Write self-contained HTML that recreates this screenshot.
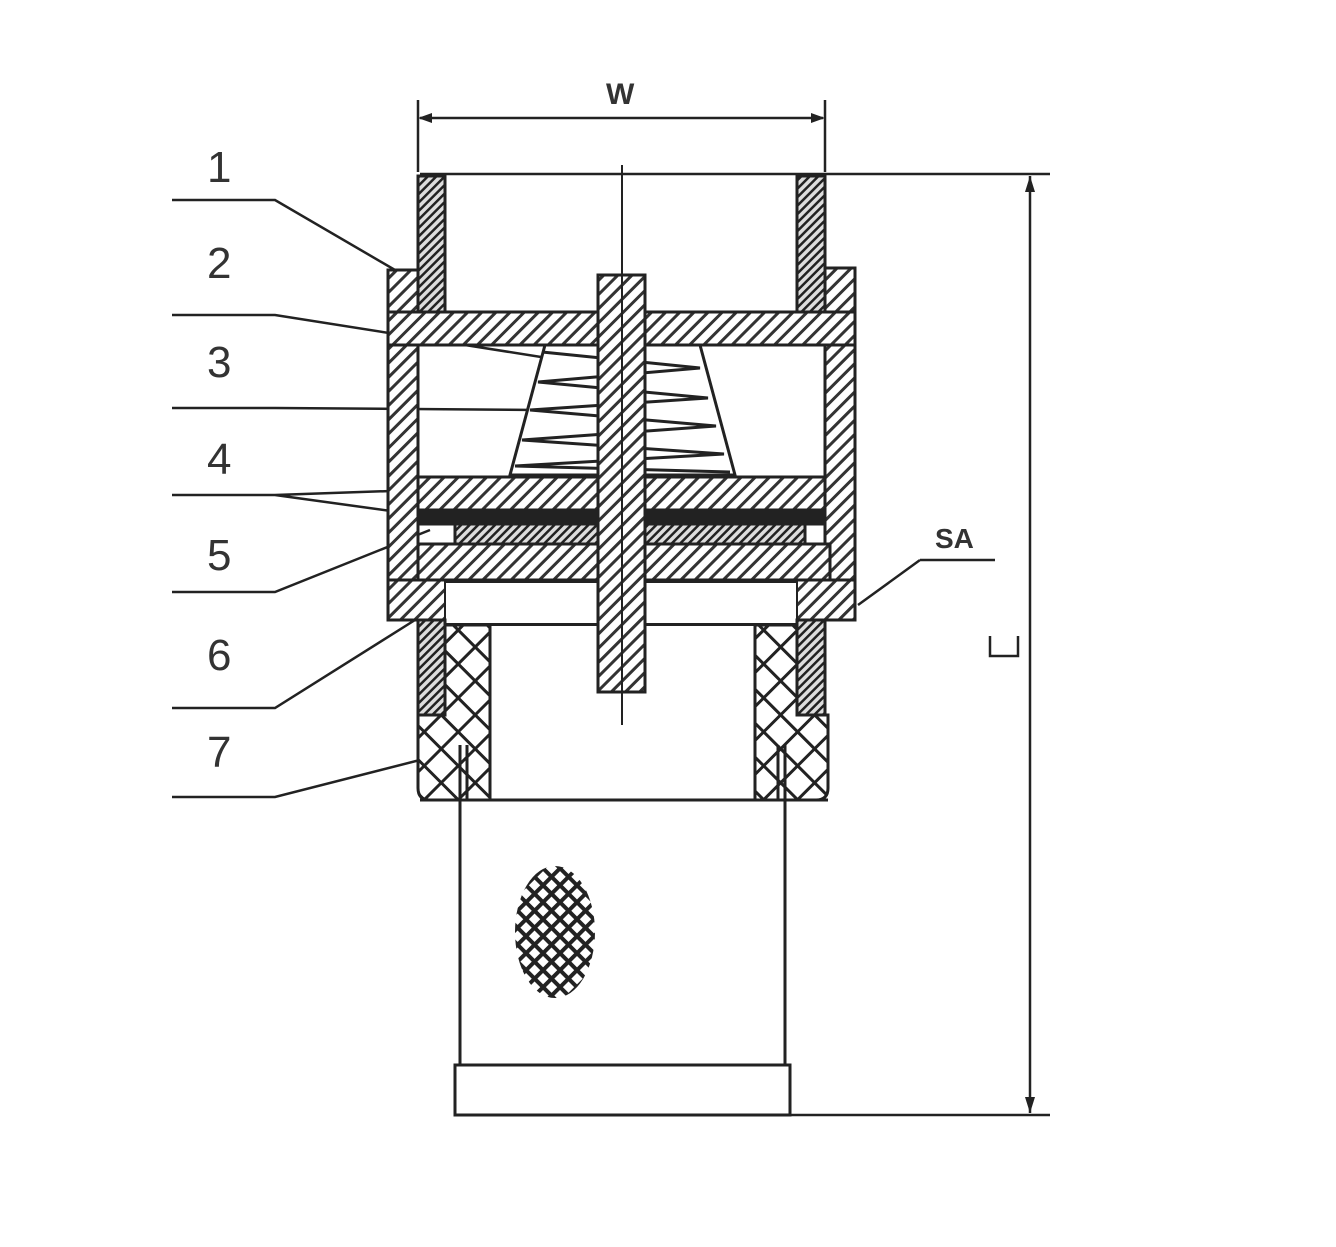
<!DOCTYPE html>
<html><head><meta charset="utf-8"><style>
html,body{margin:0;padding:0;background:#fff}
svg{display:block}
text{font-family:"Liberation Sans",sans-serif;fill:#333}
</style></head><body>
<svg width="1336" height="1247" viewBox="0 0 1336 1247" xmlns="http://www.w3.org/2000/svg">
<defs>
<pattern id="h" width="10" height="10" patternUnits="userSpaceOnUse" patternTransform="rotate(45)">
<rect width="10" height="10" fill="#fff"/><rect width="3" height="10" fill="#333"/></pattern>
<pattern id="hd" width="6" height="6" patternUnits="userSpaceOnUse" patternTransform="rotate(45)">
<rect width="6" height="6" fill="#ddd"/><rect width="2.5" height="6" fill="#222"/></pattern>
<pattern id="x" width="24" height="24" patternUnits="userSpaceOnUse" patternTransform="rotate(45)">
<rect width="24" height="24" fill="#fff"/><rect width="3" height="24" fill="#222"/><rect width="24" height="3" fill="#222"/></pattern>
<pattern id="m" width="12" height="12" patternUnits="userSpaceOnUse" patternTransform="rotate(45)">
<rect width="12" height="12" fill="#fff"/><rect width="4" height="12" fill="#222"/><rect width="12" height="4" fill="#222"/></pattern>
</defs>
<g stroke="#222" stroke-width="2.5" fill="none">
<line x1="418" y1="100" x2="418" y2="172"/><line x1="825" y1="100" x2="825" y2="172"/>
<line x1="420" y1="118" x2="823" y2="118"/>
<line x1="420" y1="174" x2="1050" y2="174"/>
<line x1="455" y1="1115" x2="1050" y2="1115"/>
<line x1="1030" y1="176" x2="1030" y2="1113"/>
<path d="M990 636 L990 656 L1018 656 L1018 636"/>
<path d="M172 200 H275 L395 270"/>
<path d="M172 315 H275 L560 360"/>
<path d="M172 408 H275 L540 410"/>
<path d="M172 495 H275 L420 490 M275 495 L420 515"/>
<path d="M172 592 H275 L430 530"/>
<path d="M172 708 H275 L415 620"/>
<path d="M172 797 H275 L420 760"/>
<path d="M920 560 H995 M920 560 L858 605"/>
</g>
<polygon points="418,118 432,113 432,123" fill="#222"/><polygon points="825,118 811,113 811,123" fill="#222"/>
<polygon points="1030,176 1025,192 1035,192" fill="#222"/><polygon points="1030,1113 1025,1097 1035,1097" fill="#222"/>
<text x="606" y="104" font-size="30" font-weight="bold">W</text>
<text x="935" y="548" font-size="28" font-weight="bold">SA</text>
<g font-size="44" style="fill:#444"><text x="207" y="182">1</text><text x="207" y="278">2</text><text x="207" y="377">3</text><text x="207" y="474">4</text><text x="207" y="570">5</text><text x="207" y="670">6</text><text x="207" y="767">7</text></g>
<g stroke="#222" stroke-width="3">
<rect x="418" y="176" width="27" height="136" fill="url(#hd)"/>
<rect x="797" y="176" width="28" height="136" fill="url(#hd)"/>
<rect x="388" y="270" width="30" height="350" fill="url(#h)"/>
<rect x="825" y="268" width="30" height="352" fill="url(#h)"/>
<rect x="388" y="312" width="467" height="33" fill="url(#h)"/>
<polygon points="545,345 700,345 735,475 510,475" fill="#fff"/>
<path d="M542 352 L700 368 L538 382 L708 398 L530 410 L716 426 L522 440 L724 454 L515 466 L730 472" stroke-width="3" fill="none"/>
<rect x="418" y="477" width="407" height="33" fill="url(#h)"/>
<rect x="418" y="510" width="407" height="14" fill="#222"/>
<rect x="455" y="524" width="350" height="20" fill="url(#hd)"/>
<rect x="418" y="544" width="412" height="36" fill="url(#h)"/>
<rect x="388" y="580" width="467" height="40" fill="url(#h)"/>
<rect x="445" y="582" width="352" height="42" fill="#fff" stroke-width="2"/>
<rect x="418" y="620" width="27" height="95" fill="url(#hd)"/>
<rect x="797" y="620" width="28" height="95" fill="url(#hd)"/>
<path d="M418 715 L445 715 L445 625 L490 625 L490 800 L430 800 Q418 800 418 788 Z" fill="url(#x)"/>
<path d="M828 715 L797 715 L797 625 L755 625 L755 800 L816 800 Q828 800 828 788 Z" fill="url(#x)"/>
<line x1="420" y1="800" x2="828" y2="800"/>
<line x1="445" y1="625" x2="797" y2="625" stroke-width="2"/>
<rect x="598" y="275" width="47" height="417" fill="url(#h)"/>
<line x1="460" y1="745" x2="460" y2="1065"/><line x1="785" y1="745" x2="785" y2="1065"/>
<line x1="467" y1="745" x2="467" y2="800"/><line x1="778" y1="745" x2="778" y2="800"/>
<rect x="455" y="1065" width="335" height="50" fill="#fff"/>
</g>
<line x1="622" y1="165" x2="622" y2="725" stroke="#222" stroke-width="2"/>
<ellipse cx="555" cy="932" rx="40" ry="66" fill="url(#m)"/>
</svg>
</body></html>
